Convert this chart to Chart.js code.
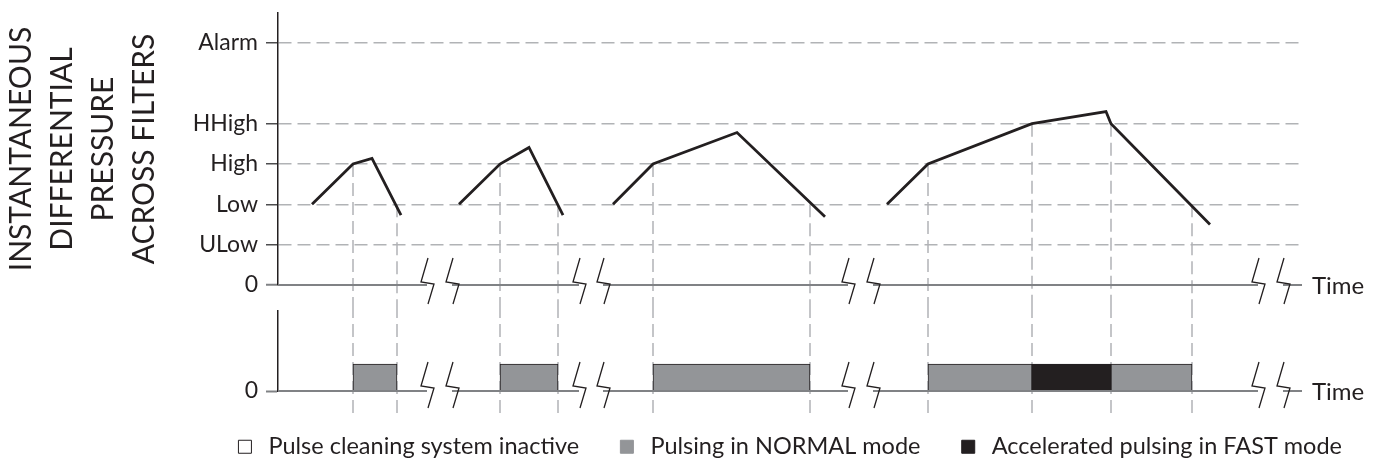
<!DOCTYPE html>
<html><head><meta charset="utf-8">
<script src="https://cdn.jsdelivr.net/npm/chart.js@4.4.1/dist/chart.umd.min.js"></script>
<style>
html,body{margin:0;padding:0;background:#fff}
#wrap{position:relative;width:1378px;height:460px;overflow:hidden}
canvas{position:absolute;left:0;display:block}
</style>
</head><body>
<div id="wrap">
<canvas id="topChart" width="1378" height="305" style="top:0"></canvas>
<canvas id="bottomChart" width="1378" height="155" style="top:305px"></canvas>
</div>
<script>
// ---------- data (time in arbitrary units, pressure in threshold levels) ----------
const levelNames  = ['0', 'ULow', 'Low', 'High', 'HHigh', 'Alarm'];
const levelValues = [0, 1, 2, 3, 4, 6];

const cycle1Time  = [3.4, 7.5, 9.4, 12.3];
const cycle1Level = [2, 3, 3.14, 1.73];
const cycle2Time  = [18.1, 22.2, 25.1, 28.5];
const cycle2Level = [2, 3, 3.41, 1.73];
const cycle3Time  = [33.5, 37.5, 45.9, 54.7];
const cycle3Level = [2, 3, 3.78, 1.69];
const cycle4Time  = [60.9, 65.0, 75.4, 82.8, 83.3, 93.2];
const cycle4Level = [2, 3, 4, 4.30, 4, 1.5];

const markerTime  = [7.5, 11.9, 22.2, 28.0, 37.5, 53.2, 65.0, 75.4, 83.3, 91.4];
const markerLevel = [3, 2, 3, 2, 3, 2, 3, 4, 4, 2];

const pulseStart = [7.5, 22.2, 37.5, 65.0, 75.4, 83.3];
const pulseEnd   = [11.9, 28.0, 53.2, 75.4, 83.3, 91.4];
const pulseMode  = ['normal', 'normal', 'normal', 'normal', 'fast', 'normal'];
const pulseOn    = 0.5;

const breakTime = [14.9, 17.4, 30.1, 32.5, 57.0, 59.5, 98.0, 100.5];
const timeEnd   = 102.4;

const legendLabels = ['Pulse cleaning system inactive', 'Pulsing in NORMAL mode', 'Accelerated pulsing in FAST mode'];
const yTitleLines  = ['INSTANTANEOUS', 'DIFFERENTIAL', 'PRESSURE', 'ACROSS FILTERS'];

// ---------- styles ----------
const INK = '#231f20', GRID = '#b1b3b6', ZERO = '#808285';
const modeColor = {inactive: '#ffffff', normal: '#939598', fast: '#231f20'};
const legendFill = [modeColor.inactive, modeColor.normal, modeColor.fast];
const legendEdge = [INK, modeColor.normal, modeColor.fast];
const ZIG = [[1, -27], [-6, -3], [7, -1], [1, 19]];

Chart.defaults.font.family = 'Lato';
Chart.defaults.color = INK;

const noPad = s => { s.paddingTop = 0; s.paddingBottom = 0; };

const extras = {
  id: 'extras',
  beforeDatasetsDraw(chart, args, opts) {
    const {ctx} = chart, xs = chart.scales.x, ys = chart.scales.y;
    ctx.save();
    ctx.strokeStyle = GRID; ctx.lineWidth = 1.5; ctx.setLineDash([13, 6]);
    markerTime.forEach((t, i) => {
      const px = xs.getPixelForValue(t);
      let y1, y2;
      if (opts.panel === 'top') { y1 = ys.getPixelForValue(markerLevel[i]); y2 = chart.height; }
      else { y1 = 0; y2 = ys.getPixelForValue(0) + 22; }
      ctx.beginPath(); ctx.moveTo(px, y1); ctx.lineTo(px, y2); ctx.stroke();
    });
    ctx.restore();
  },
  afterDatasetsDraw(chart, args, opts) {
    const {ctx} = chart, xs = chart.scales.x, ys = chart.scales.y;
    const y0 = ys.getPixelForValue(0);
    const stops = [0, ...breakTime, timeEnd];
    ctx.save();
    ctx.strokeStyle = ZERO; ctx.lineWidth = 2;
    ctx.beginPath();
    for (let k = 0; k < stops.length; k += 2) {
      ctx.moveTo(xs.getPixelForValue(stops[k]), y0);
      ctx.lineTo(xs.getPixelForValue(stops[k + 1]), y0);
    }
    ctx.stroke();
    ctx.strokeStyle = INK; ctx.lineWidth = 1.3; ctx.lineJoin = 'miter';
    const dy = opts.panel === 'top' ? 0 : -2;
    breakTime.forEach(t => {
      const px = xs.getPixelForValue(t);
      ctx.beginPath();
      ZIG.forEach(([a, b], k) => k ? ctx.lineTo(px + a, y0 + b + dy) : ctx.moveTo(px + a, y0 + b + dy));
      ctx.stroke();
    });
    ctx.fillStyle = INK; ctx.font = '24px Lato'; ctx.textAlign = 'left'; ctx.textBaseline = 'alphabetic';
    ctx.fillText('Time', xs.getPixelForValue(timeEnd) + 10, y0 + 8.5);
    ctx.restore();
  }
};

const cycles = [[cycle1Time, cycle1Level], [cycle2Time, cycle2Level], [cycle3Time, cycle3Level], [cycle4Time, cycle4Level]];

new Chart(document.getElementById('topChart'), {
  type: 'line',
  data: {
    datasets: cycles.map(([t, p]) => ({
      data: t.map((v, i) => ({x: v, y: p[i]})),
      borderColor: INK, borderWidth: 2.8, pointRadius: 0, tension: 0, fill: false,
      borderJoinStyle: 'miter'
    }))
  },
  options: {
    responsive: false, animation: false, events: [],
    layout: {padding: {top: 13, bottom: 20, left: 0, right: 78}},
    plugins: {legend: {display: false}, tooltip: {enabled: false}, extras: {panel: 'top'}},
    scales: {
      x: {type: 'linear', min: 0, max: 102.2, display: false},
      y: {
        type: 'linear', min: 0, max: 6.744,
        afterFit(s) { s.width = 278; noPad(s); },
        afterBuildTicks(s) { s.ticks = levelValues.map(v => ({value: v})); },
        ticks: {autoSkip: false, padding: 8, font: {size: 23}, color: INK, callback: (v, i) => levelNames[i]},
        grid: {
          color: c => (c.tick && c.tick.value === 0) ? 'rgba(0,0,0,0)' : GRID,
          lineWidth: 1.5, tickLength: 12,
          tickColor: c => (c.tick && c.tick.value === 0) ? ZERO : '#4d4d4f',
          tickWidth: c => (c.tick && c.tick.value === 0) ? 2 : 1.5
        },
        border: {display: true, color: INK, width: 1.5, dash: [13, 6]},
        title: {display: true, text: yTitleLines, font: {size: 30, lineHeight: 1.367}, color: INK, padding: {top: 1, bottom: 0}}
      }
    }
  },
  plugins: [extras]
});

new Chart(document.getElementById('bottomChart'), {
  type: 'bar',
  data: {
    datasets: [{
      data: pulseStart.map((s, i) => ({x: [s, pulseEnd[i]], y: pulseOn})),
      backgroundColor: pulseMode.map(m => modeColor[m]),
      borderColor: INK, borderWidth: 1, borderSkipped: false,
      barThickness: 27, grouped: false
    }]
  },
  options: {
    indexAxis: 'y', responsive: false, animation: false, events: [],
    layout: {padding: {top: 6, bottom: 0, left: 0, right: 0}},
    plugins: {
      tooltip: {enabled: false},
      extras: {panel: 'bottom'},
      legend: {
        display: true, position: 'bottom', fullSize: true, align: 'end', maxHeight: 61, onClick: null,
        labels: {
          usePointStyle: true, boxWidth: 40, boxHeight: 13, padding: 36,
          font: {size: 23.5}, color: INK,
          generateLabels: () => legendLabels.map((t, i) => ({
            text: t, fillStyle: legendFill[i], strokeStyle: legendEdge[i], lineWidth: 1,
            pointStyle: 'rect', hidden: false, fontColor: INK, datasetIndex: 0
          }))
        }
      }
    },
    scales: {
      x: {type: 'linear', min: 0, max: 102.2, display: true, grid: {display: false}, border: {display: false},
          ticks: {display: false}, afterFit(s) { s.height = 8; }},
      y: {
        type: 'linear', min: 0, max: 2.963, offset: false,
        afterFit(s) { s.width = 278; noPad(s); },
        afterBuildTicks(s) { s.ticks = [{value: 0}]; },
        ticks: {padding: 8, font: {size: 23}, color: INK, callback: () => '0'},
        grid: {offset: false, color: 'rgba(0,0,0,0)', tickLength: 12, tickColor: ZERO, tickWidth: 2},
        border: {display: true, color: INK, width: 1.5}
      },
      yRight: {
        type: 'linear', position: 'right', display: true,
        grid: {display: false}, border: {display: false}, ticks: {display: false},
        afterFit(s) { s.width = 78; noPad(s); }
      }
    }
  },
  plugins: [extras]
});
</script>
</body></html>
